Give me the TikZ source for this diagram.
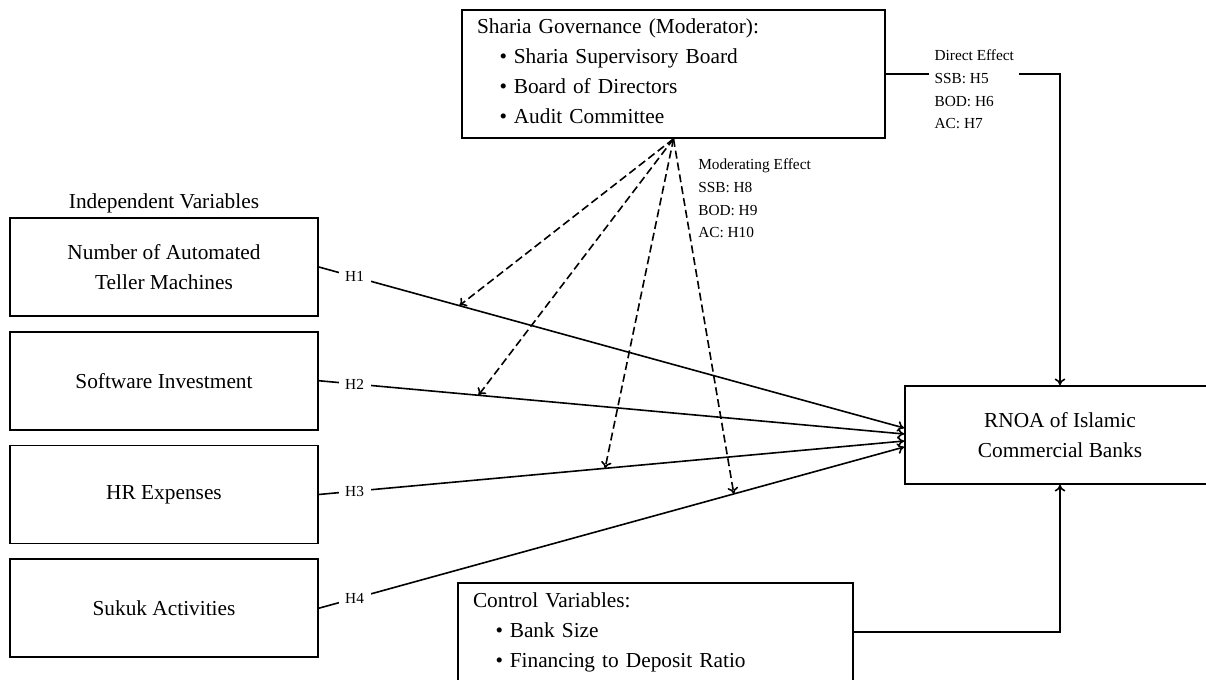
\documentclass[tikz,border=0pt]{standalone}
\usepackage{fontspec}
\setmainfont{Liberation Serif}
\usepackage{tikz}
\usetikzlibrary{positioning,arrows.meta}

\newcommand{\bitem}[1]{\hspace*{17pt}\textbullet\hspace{5pt}#1}

\tikzset{
  varbox/.style={draw, line width=1.3pt, minimum width=231pt, minimum height=73.5pt,
    inner sep=0pt, align=center, font=\fontsize{16}{22.5}\selectfont},
  listbox/.style={draw, line width=1.3pt, inner xsep=11.25pt, inner ysep=0pt, align=left,
    font=\fontsize{16}{22.5}\selectfont},
  smalltxt/.style={inner sep=0pt, align=left, font=\fontsize{11.5}{17}\selectfont},
  hlab/.style={fill=white, inner xsep=5pt, inner ysep=1pt, font=\fontsize{11.5}{13}\selectfont},
  effect/.style={draw, line width=1.2pt, -{To[length=5pt,width=8pt]}},
  modline/.style={draw, line width=1.2pt, dash pattern=on 6pt off 3pt, -{To[length=5pt,width=8pt]}}
}

\begin{document}
\begin{tikzpicture}[x=0.75pt,y=-0.75pt]
  \useasboundingbox (0,0) rectangle (1206,679);

  % moderator and outcome
  \node[listbox, text width=294.75pt, minimum height=96pt] (gov) at (673.5,74)
    {Sharia Governance (Moderator):\\ \bitem{Sharia Supervisory Board}\\
     \bitem{Board of Directors}\\ \bitem{Audit Committee}\vspace*{4pt}};
  \node[varbox, minimum width=232.5pt] (rnoa) at (1060,435) {RNOA of Islamic\\ Commercial Banks};
  \node[listbox, text width=273.75pt, minimum height=73.5pt] (ctrl) at (655.5,632)
    {Control Variables:\\ \bitem{Bank Size}\\ \bitem{Financing to Deposit Ratio}};

  % independent variables
  \node[varbox] (atm) at (164,267) {Number of Automated\\ Teller Machines};
  \node[varbox, below=10.5pt of atm] (soft) {Software Investment};
  \node[varbox, below=10.5pt of soft] (hr) {HR Expenses};
  \node[varbox, below=10.5pt of hr] (sukuk) {Sukuk Activities};
  \node[inner sep=0pt, font=\fontsize{16}{19}\selectfont, above=2.5pt of atm] (indep) {Independent Variables};

  \draw[effect] (atm.east) -- node[hlab, pos=0.061] (h1) {H1} coordinate[pos=0.24] (m1) ([yshift=5.25pt]rnoa.west);
  \draw[effect] (soft.east) -- node[hlab, pos=0.061] (h2) {H2} coordinate[pos=0.2726] (m2) ([yshift=0.75pt]rnoa.west);
  \draw[effect] (hr.east) -- node[hlab, pos=0.061] (h3) {H3} coordinate[pos=0.489] (m3) ([yshift=-4.5pt]rnoa.west);
  \draw[effect] (sukuk.east) -- node[hlab, pos=0.061] (h4) {H4} coordinate[pos=0.709] (m4) ([yshift=-9pt]rnoa.west);

  % moderating effect
  \draw[modline] (gov.south) -- (m1);
  \draw[modline] (gov.south) -- (m2);
  \draw[modline] (gov.south) -- (m3);
  \draw[modline] (gov.south) -- (m4);
  \node[smalltxt, anchor=west] (moder) at (698,198.5) {Moderating Effect\\ SSB: H8\\ BOD: H9\\ AC: H10};

  % direct effect and controls
  \draw[effect] (gov.east) -- (gov.east -| rnoa.north) -- (rnoa.north);
  \node[smalltxt, fill=white, inner xsep=4pt, anchor=west] (direct) at (929,89.5)
    {Direct Effect\\ SSB: H5\\ BOD: H6\\ AC: H7};
  \draw[effect] (ctrl.east) -- (ctrl.east -| rnoa.south) -- (rnoa.south);
\end{tikzpicture}
\end{document}
